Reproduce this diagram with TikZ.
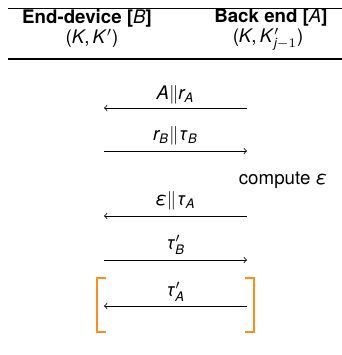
\documentclass[tikz,border=0pt]{standalone}
\usepackage{amsmath}
\usepackage{fontspec}
\setmainfont{TeX Gyre Heros}
\newcommand{\mi}[1]{\textit{#1}}
\definecolor{brorange}{RGB}{255,140,30}
\begin{document}
\begin{tikzpicture}[x=0.5348pt,y=-0.5348pt,
  msg/.style={->,line width=0.4pt},
  rulethick/.style={line width=0.9pt},
  lbl/.style={inner sep=0pt,anchor=center},
  brk/.style={draw=brorange,line width=0.7pt}]
\path[use as bounding box] (0,-10) rectangle (342,345);
% rules
\coordinate (ruleAl) at (8,-1.5); \coordinate (ruleAr) at (342,-1.5);
\coordinate (ruleBl) at (8,49); \coordinate (ruleBr) at (342,49);
\draw[rulethick] (ruleAl) -- (ruleAr) (ruleBl) -- (ruleBr);
% headers
\node[lbl] (hB) at (87,8) {\textbf{End-device [}\mi{B}\textbf{]}};
\node[lbl] (hA) at (271,8) {\textbf{Back end [}\mi{A}\textbf{]}};
\node[lbl] (kB) at (92,28.5) {(\mi{K},\,\mi{K}$'$)};
\node[lbl] (kA) at (268,29.5) {(\mi{K},\,\mi{K}$'_{\mi{j}-1}$)};
% message rows
\coordinate (l1) at (104,98); \coordinate (r1) at (247,98);
\coordinate (l2) at (104,141); \coordinate (r2) at (247,141);
\coordinate (l3) at (104,206); \coordinate (r3) at (247,206);
\coordinate (l4) at (104,250); \coordinate (r4) at (247,250);
\coordinate (l5) at (104,296); \coordinate (r5) at (247,296);
\draw[msg] (r1) -- (l1);
\draw[msg] (l2) -- (r2);
\draw[msg] (r3) -- (l3);
\draw[msg] (l4) -- (r4);
\draw[msg] (r5) -- (l5);
\node[lbl] (m1) at (175.5,85) {$\mi{A}\|\mi{r}_{\mi{A}}$};
\node[lbl] (m2) at (175.5,126) {$\mi{r}_{\mi{B}}\|\mi{τ}_{\mi{B}}$};
\node[lbl] (cmp) at (283,170) {compute $\mi{ε}$};
\node[lbl] (m3) at (175.5,191) {$\mi{ε}\|\mi{τ}_{\mi{A}}$};
\node[lbl] (m4) at (175.5,235) {$\mi{τ}'_{\mi{B}}$};
\node[lbl] (m5) at (175.5,282) {$\mi{τ}'_{\mi{A}}$};
% orange brackets
\coordinate (bk1) at (97,268); \coordinate (bk2) at (97,322);
\coordinate (bk3) at (254,268); \coordinate (bk4) at (254,322);
\draw[brk] ([xshift=5]bk1) -- (bk1) -- (bk2) -- ([xshift=5]bk2);
\draw[brk] ([xshift=-5]bk3) -- (bk3) -- (bk4) -- ([xshift=-5]bk4);
\end{tikzpicture}
\end{document}
